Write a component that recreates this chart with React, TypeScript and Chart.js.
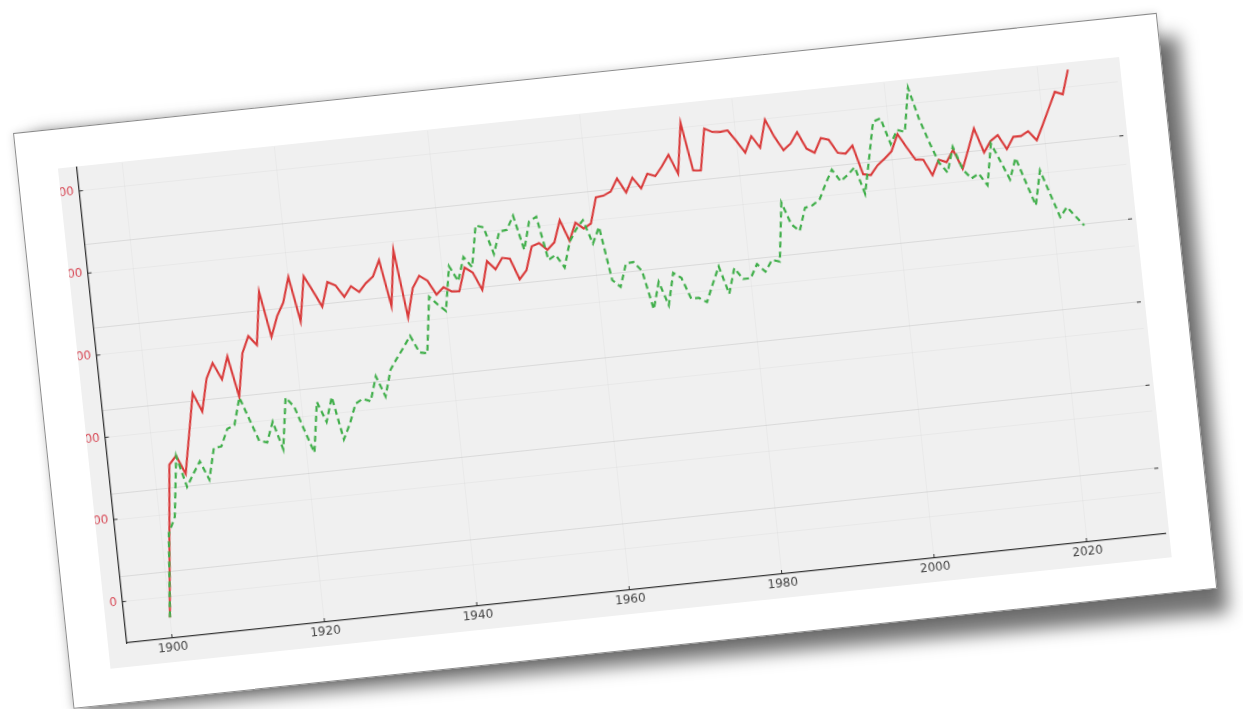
import React, { useEffect, useRef } from "react";
import { Chart, registerables } from "chart.js";

Chart.register(...registerables);

const YEARS = [
  1900, 1901, 1902, 1903, 1904, 1905, 1906, 1907, 1908, 1909,
  1910, 1911, 1912, 1913, 1914, 1915, 1916, 1917, 1918, 1919,
  1920, 1921, 1922, 1923, 1924, 1925, 1926, 1927, 1928, 1929,
  1930, 1931, 1932, 1933, 1934, 1935, 1936, 1937, 1938, 1939,
  1940, 1941, 1942, 1943, 1944, 1945, 1946, 1947, 1948, 1949,
  1950, 1951, 1952, 1953, 1954, 1955, 1956, 1957, 1958, 1959,
  1960, 1961, 1962, 1963, 1964, 1965, 1966, 1967, 1968, 1969,
  1970, 1971, 1972, 1973, 1974, 1975, 1976, 1977, 1978, 1979,
  1980, 1981, 1982, 1983, 1984, 1985, 1986, 1987, 1988, 1989,
  1990, 1991, 1992, 1993, 1994, 1995, 1996, 1997, 1998, 1999,
  2000, 2001, 2002, 2003, 2004, 2005, 2006, 2007, 2008, 2009,
  2010, 2011, 2012, 2013, 2014, 2015, 2016, 2017, 2018, 2019,
  2020, 2021, 2022, 2023, 2024,
];

// red solid series (left axis)
const RED = [
  -25, 70, 159, 169, 146, 194, 242, 219, 258, 276,
  255, 282, 232, 284, 304, 292, 356, 300, 324, 340,
  370, 315, 369, 350, 330, 359, 354, 339, 351, 343,
  353, 360, 379, 322, 389, 306, 341, 355, 348, 330,
  338, 332, 331, 359, 352, 330, 364, 353, 366, 364,
  338, 348, 376, 379, 370, 378, 404, 378, 399, 391,
  396, 427, 428, 432, 447, 429, 446, 432, 449, 445,
  456, 469, 445, 506, 447, 446, 496, 491, 490, 491,
  477, 462, 481, 466, 499, 477, 460, 467, 480, 459,
  453, 470, 467, 450, 448, 457, 421, 419, 430, 437,
  445, 465, 448, 432, 431, 411, 429, 425, 439, 415,
  438, 462, 432, 445, 451, 433, 447, 447, 452, 440,
  458, 477, 496, 492, 521,
];

// green dashed series (right axis)
const GREEN = [
  4.6, 14.6, 16.5, 23.7, 19.9, 21.4, 22.8, 20.5, 24.2, 24.3,
  26.3, 26.7, 29.9, 27.2, 24.5, 24.2, 26.6, 23.2, 29.3, 28.1,
  25.2, 22.4, 28.4, 25.9, 28.8, 23.6, 25.4, 27.7, 28.2, 27.8,
  30.7, 28.2, 31.3, 32.6, 33.8, 35.1, 33.0, 32.8, 39.5, 38.5,
  37.6, 42.9, 41.0, 43.8, 42.5, 47.4, 47.1, 43.8, 46.4, 46.5,
  48.1, 43.9, 47.2, 47.7, 42.4, 42.9, 41.3, 44.3, 45.7, 46.7,
  43.8, 45.7, 39.2, 38.3, 41.0, 41.1, 39.9, 35.2, 38.4, 35.5,
  39.3, 38.6, 36.0, 36.0, 35.4, 37.5, 39.5, 36.1, 39.1, 37.7,
  37.7, 39.3, 38.3, 39.6, 39.3, 46.3, 43.6, 42.7, 45.4, 45.6,
  46.2, 48.0, 49.6, 48.1, 48.8, 49.6, 46.3, 50.5, 54.8, 55.1,
  51.9, 53.5, 53.2, 58.4, 54.6, 51.7, 49.1, 47.8, 50.8, 48.0,
  46.8, 47.3, 45.8, 50.7, 48.5, 46.2, 48.7, 45.7, 42.8, 46.9,
  44.0, 41.1, 42.2, 41.0, 39.8,
];

const X_TICKS = [1900, 1920, 1940, 1960, 1980, 2000, 2020];
const LEFT_TICKS = [0, 100, 200, 300, 400, 500];
const RIGHT_TICKS = [10, 20, 30, 40, 50];

const X_MIN = 1894;
const X_MAX = 2030.3;
const L_MIN = -50.1;
const L_MAX = 528.6;
const R_MIN = 2.1;
const R_MAX = 59.3;

const FONT = { family: "'DejaVu Sans', sans-serif", size: 12 };

const noPad = (s: any) => {
  s.paddingTop = 0;
  s.paddingBottom = 0;
  s.paddingLeft = 0;
  s.paddingRight = 0;
};

export default function App() {
  const ref = useRef<HTMLCanvasElement>(null);

  useEffect(() => {
    const canvas = ref.current;
    if (!canvas) return;

    const inwardTicks = {
      id: "inwardTicks",
      afterDraw(chart: any) {
        const { ctx, chartArea: a, scales } = chart;
        ctx.save();
        ctx.strokeStyle = "#333";
        ctx.lineWidth = 1;
        ctx.beginPath();
        for (const v of LEFT_TICKS) {
          const y = scales.y.getPixelForValue(v);
          ctx.moveTo(a.left, y);
          ctx.lineTo(a.left + 4, y);
        }
        for (const v of X_TICKS) {
          const x = scales.x.getPixelForValue(v);
          ctx.moveTo(x, a.bottom);
          ctx.lineTo(x, a.bottom - 4);
        }
        for (const v of RIGHT_TICKS) {
          const y = scales.y1.getPixelForValue(v);
          ctx.moveTo(a.right - 4, y);
          ctx.lineTo(a.right, y);
        }
        ctx.stroke();
        ctx.restore();
      },
    };

    const chart = new Chart(canvas, {
      type: "line",
      data: {
        datasets: [
          {
            data: YEARS.map((x, i) => ({ x, y: RED[i] })),
            yAxisID: "y",
            borderColor: "#d93a3a",
            borderWidth: 2.1,
            pointRadius: 0,
            tension: 0,
            fill: false,
            order: 2,
          },
          {
            data: YEARS.map((x, i) => ({ x, y: GREEN[i] })),
            yAxisID: "y1",
            borderColor: "#3fae49",
            borderWidth: 2.2,
            borderDash: [6, 4],
            pointRadius: 0,
            tension: 0,
            fill: false,
            order: 1,
          },
        ],
      },
      options: {
        responsive: false,
        animation: false,
        devicePixelRatio: 1,
        events: [],
        layout: { padding: { top: 1, left: 0, right: 0, bottom: 0 } },
        plugins: { legend: { display: false }, tooltip: { enabled: false } },
        scales: {
          x: {
            type: "linear",
            position: "bottom",
            min: X_MIN,
            max: X_MAX,
            afterBuildTicks: (s: any) => {
              s.ticks = X_TICKS.map((value) => ({ value }));
            },
            afterFit: (s: any) => {
              s.height = 24;
              noPad(s);
            },
            ticks: {
              callback: (v: any) => String(v),
              color: "#444",
              font: FONT,
              padding: 3,
              maxRotation: 0,
              autoSkip: false,
            },
            grid: { color: "rgba(0,0,0,0.028)", drawTicks: false },
            border: { display: true, color: "#333", width: 1.3 },
          },
          y: {
            type: "linear",
            position: "left",
            min: L_MIN,
            max: L_MAX,
            afterBuildTicks: (s: any) => {
              s.ticks = LEFT_TICKS.map((value) => ({ value }));
            },
            afterFit: (s: any) => {
              s.width = 18.5;
              noPad(s);
            },
            ticks: {
              callback: (v: any) => String(v),
              color: "#d84a57",
              font: FONT,
              padding: 5,
            },
            grid: { color: "rgba(0,0,0,0.03)", drawTicks: false },
            border: { display: true, color: "#333", width: 1.3 },
          },
          y1: {
            type: "linear",
            position: "right",
            min: R_MIN,
            max: R_MAX,
            afterBuildTicks: (s: any) => {
              s.ticks = RIGHT_TICKS.map((value) => ({ value }));
            },
            afterFit: (s: any) => {
              s.width = 4;
              noPad(s);
            },
            ticks: { display: false },
            grid: { color: "rgba(0,0,0,0.09)", drawTicks: false },
            border: { display: false },
          },
        },
      },
      plugins: [inwardTicks],
    } as any);

    return () => chart.destroy();
  }, []);

  return (
    <div
      style={{
        position: "absolute",
        left: 13,
        top: 133,
        width: 1150,
        height: 579,
        transformOrigin: "0 0",
        transform: "rotate(-6deg)",
      }}
    >
      <div
        style={{
          position: "absolute",
          left: 0,
          top: 0,
          width: 1150,
          height: 579,
          background: "rgba(0,0,0,0.55)",
          filter: "blur(9px)",
          transformOrigin: "0 100%",
          transform: "translate(9px, 5px) rotate(1deg)",
        }}
      />
      <div
        style={{
          position: "absolute",
          left: 0,
          top: 0,
          width: 1150,
          height: 579,
          boxSizing: "border-box",
          background: "#fff",
          border: "1.5px solid #8c8c8c",
          boxShadow: "0 0 8px rgba(0,0,0,0.15)",
        }}
      >
        <div
          style={{
            position: "absolute",
            left: 39.5,
            top: 38.5,
            width: 1067,
            height: 503,
            background: "#f0f0f0",
            overflow: "hidden",
          }}
        >
          <canvas ref={ref} width={1067} height={503} style={{ display: "block" }} />
        </div>
      </div>
    </div>
  );
}
